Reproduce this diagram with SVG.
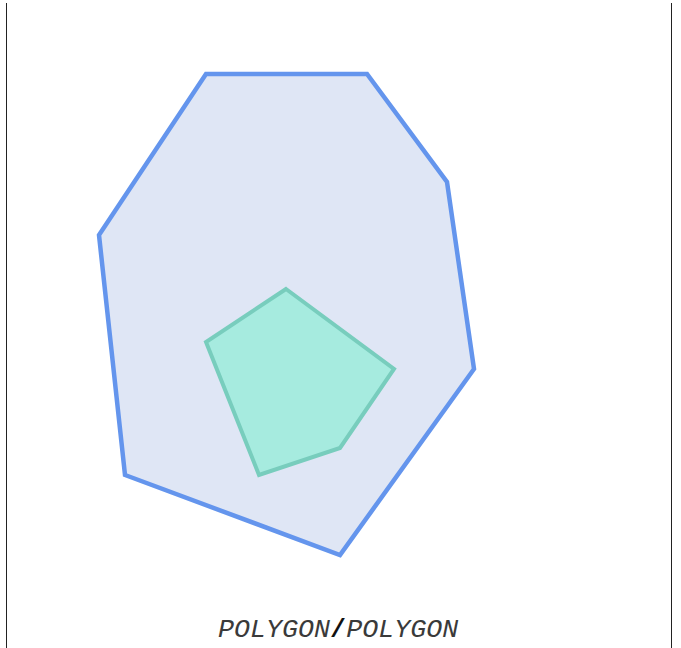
<svg xmlns="http://www.w3.org/2000/svg" width="681" height="648" viewBox="0 0 681 648">
<style>
.frame{stroke:#222;stroke-width:1;fill:none}
.outer{fill:#dfe6f5;stroke:#6495ed;stroke-width:4.5;stroke-linejoin:miter}
.inner{fill:#a6ebdf;stroke:#78cdbd;stroke-width:4;stroke-linejoin:miter}
.lbl{font-family:"Liberation Mono","Courier New",monospace;font-size:26.7px;font-style:italic;fill:#3a3a3a}
.sep{font-style:normal;font-weight:bold;fill:#111}
</style>
<rect width="681" height="648" fill="#fff"/>
<g id="frame">
<line class="frame" x1="6.5" y1="3" x2="6.5" y2="648"/>
<line class="frame" x1="671.5" y1="3" x2="671.5" y2="648"/>
</g>
<g id="outer-polygon">
<polygon class="outer" points="206,74 367,74 447,182 474,369 340,555 125,475 99,235"/>
</g>
<g id="inner-polygon">
<polygon class="inner" points="286,289 394,369 340,448 259,475 206,342"/>
</g>
<g id="label">
<text class="lbl" x="218" y="637">POLYGON<tspan class="sep">/</tspan>POLYGON</text>
</g>
</svg>
